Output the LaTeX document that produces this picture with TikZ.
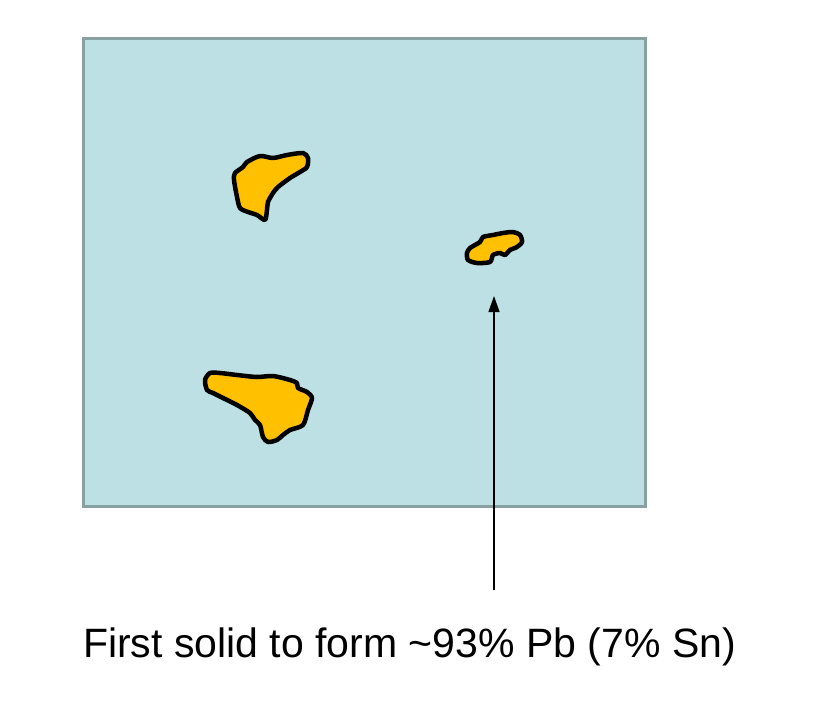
\documentclass[tikz,border=0pt]{standalone}
\usepackage{fontspec}
\setmainfont{Liberation Sans}
\usetikzlibrary{arrows.meta}
\definecolor{boxfill}{HTML}{BCE0E3}
\definecolor{boxline}{HTML}{88A0A2}
\definecolor{grain}{HTML}{FFC000}
\tikzset{
  grainstyle/.style={fill=grain, draw=black, line width=4.5pt, line join=round},
  px/.style={x=1pt,y=-1pt}
}
\begin{document}
\begin{tikzpicture}[px]
\useasboundingbox (0,0) rectangle (814,721);
\fill[white] (0,0) rectangle (814,721);
\draw[boxline, fill=boxfill, line width=3pt] (83,38) rectangle (645,506);
% grain 1
\draw[grainstyle] plot[smooth cycle, tension=0.45] coordinates {(235,173) (243,167) (247,162) (260,156) (273,158) (287,155) (303,153) (308,158) (307,167) (300,172) (290,178) (278,187) (273,193) (268,202) (267,210) (265,220) (257,215) (248,212) (240,208) (237,197) (234,180)};
% grain 2
\draw[grainstyle] plot[smooth cycle, tension=0.45] coordinates {(467,253) (470,248) (480,242) (483,237) (493,235) (503,233) (513,232) (520,235) (522,242) (517,247) (510,250) (505,255) (500,253) (493,255) (490,262) (477,263) (468,260)};
% grain 3
\draw[grainstyle] plot[smooth cycle, tension=0.45] coordinates {(205,380) (210,373) (220,373) (237,375) (257,377) (273,376) (290,380) (297,383) (298,388) (307,392) (312,398) (308,410) (303,425) (290,430) (283,435) (277,440) (268,442) (263,437) (260,425) (255,420) (250,413) (237,405) (223,398) (213,393) (207,390)};
\node[font=\fontsize{41}{48}\selectfont, inner sep=0pt, anchor=base] (label) at (409.5,657) {First solid to form \textasciitilde 93\% Pb (7\% Sn)};
\coordinate (tip) at (494,296);
\coordinate (tail) at (494,590);
\draw[-{Triangle[length=16pt,width=11pt]}, line width=1.3pt] (tail) -- (tip);
\end{tikzpicture}
\end{document}
